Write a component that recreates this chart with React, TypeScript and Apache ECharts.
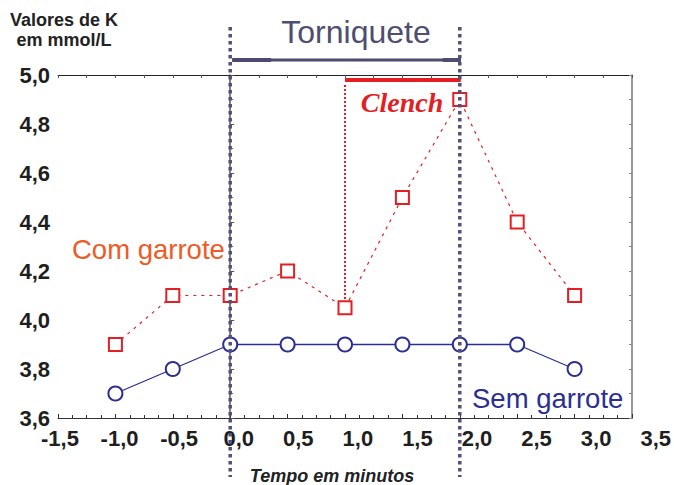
import React, { useEffect, useRef } from "react";
import * as echarts from "echarts";

const timeMin = [-1.0, -0.5, 0.0, 0.5, 1.0, 1.5, 2.0, 2.5, 3.0];
const comGarrote = [3.9, 4.1, 4.1, 4.2, 4.05, 4.5, 4.9, 4.4, 4.1];
const semGarrote = [3.7, 3.8, 3.9, 3.9, 3.9, 3.9, 3.9, 3.9, 3.8];
const xTickLabels = ["-1,5", "-1,0", "-0,5", "0,0", "0,5", "1,0", "1,5", "2,0", "2,5", "3,0", "3,5"];
const yTickLabels = ["3,6", "3,8", "4,0", "4,2", "4,4", "4,6", "4,8", "5,0"];
const torniqueteSpan = [0, 2];
const clenchSpan = [1, 2];
const clenchLevel = 4.98;
const clenchStartValue = 4.05;

const RED = "#e31e24";
const NAVY = "#2b2f92";
const DOT = "#505078";
const SANS = "'Liberation Sans', Arial, sans-serif";
const SERIF = "'Liberation Serif', 'Times New Roman', serif";

export default function App() {
  const ref = useRef<HTMLDivElement>(null);
  useEffect(() => {
    if (!ref.current) return;
    const chart = echarts.init(ref.current, null, { renderer: "svg" });
    const xFmt = (v: number) => {
      const i = Math.round((v + 1.5) / 0.5);
      return xTickLabels[i] ?? "";
    };
    const yFmt = (v: number) => {
      const i = Math.round((v - 3.6) / 0.2);
      return yTickLabels[i] ?? "";
    };
    const option: any = {
      animation: false,
      backgroundColor: "#ffffff",
      grid: [
        { left: 58, right: 42, top: 75, bottom: 67 },
        { left: 60, right: 17, top: 75, bottom: 67 },
      ],
      xAxis: [
        {
          gridIndex: 0,
          type: "value",
          min: -1.5,
          max: 3.5,
          interval: 0.5,
          position: "bottom",
          axisLine: { show: true, lineStyle: { color: "#333", width: 1 } },
          axisTick: { show: true, inside: true, length: 4, lineStyle: { color: "#333" } },
          minorTick: { show: true, splitNumber: 4, length: 3, lineStyle: { color: "#333" } },
          axisLabel: { show: false },
          splitLine: { show: false },
        },
        {
          gridIndex: 0,
          type: "value",
          min: -1.5,
          max: 3.5,
          interval: 0.5,
          position: "top",
          axisLine: { show: true, onZero: false, lineStyle: { color: "#222", width: 1 } },
          axisTick: { show: true, inside: true, length: 3, lineStyle: { color: "#555" } },
          minorTick: { show: true, splitNumber: 2, length: 3, lineStyle: { color: "#555" } },
          axisLabel: { show: false },
          splitLine: { show: false },
        },
        {
          gridIndex: 1,
          type: "value",
          min: -1.5,
          max: 3.5,
          interval: 0.5,
          position: "bottom",
          axisLine: { show: false },
          axisTick: { show: false },
          splitLine: { show: false },
          axisLabel: {
            show: true,
            margin: 9,
            formatter: xFmt,
            fontFamily: SANS,
            fontWeight: "bold",
            fontSize: 22,
            color: "#1e1e1e",
          },
        },
      ],
      yAxis: [
        {
          gridIndex: 0,
          type: "value",
          min: 3.6,
          max: 5.0,
          interval: 0.2,
          position: "left",
          axisLine: { show: true, lineStyle: { color: "#555", width: 1.5 } },
          axisTick: { show: true, inside: true, length: 4, lineStyle: { color: "#555" } },
          minorTick: { show: true, splitNumber: 2, length: 3, lineStyle: { color: "#777" } },
          splitLine: { show: false },
          axisLabel: {
            show: true,
            margin: 8,
            formatter: yFmt,
            fontFamily: SANS,
            fontWeight: "bold",
            fontSize: 22,
            color: "#1e1e1e",
          },
        },
        {
          gridIndex: 0,
          type: "value",
          min: 3.6,
          max: 5.0,
          interval: 0.2,
          position: "right",
          axisLine: { show: true, onZero: false, lineStyle: { color: "#777", width: 1.5 } },
          axisTick: { show: true, inside: true, length: 3, lineStyle: { color: "#888" } },
          minorTick: { show: true, splitNumber: 2, length: 3, lineStyle: { color: "#888" } },
          splitLine: { show: false },
          axisLabel: { show: false },
        },
        { gridIndex: 1, type: "value", min: 0, max: 1, show: false },
      ],
      series: [
        {
          name: "Com garrote",
          type: "line",
          xAxisIndex: 0,
          yAxisIndex: 0,
          data: timeMin.map((t, i) => [t, comGarrote[i]]),
          symbol: "rect",
          symbolSize: 13,
          itemStyle: { color: "#ffffff", borderColor: RED, borderWidth: 2 },
          lineStyle: { color: RED, width: 1.2, type: [3, 5] },
          z: 3,
        },
        {
          name: "Sem garrote",
          type: "line",
          xAxisIndex: 0,
          yAxisIndex: 0,
          data: timeMin.map((t, i) => [t, semGarrote[i]]),
          symbol: "circle",
          symbolSize: 14,
          itemStyle: { color: "#ffffff", borderColor: NAVY, borderWidth: 2 },
          lineStyle: { color: NAVY, width: 1.3 },
          z: 3,
        },
        {
          name: "clench-vertical",
          type: "custom",
          xAxisIndex: 0,
          yAxisIndex: 0,
          clip: false,
          z: 4,
          data: [[clenchSpan[0], clenchLevel, clenchStartValue]],
          renderItem: (params: any, api: any) => {
            const a = api.coord([api.value(0), api.value(1)]);
            const b = api.coord([api.value(0), api.value(2)]);
            return {
              type: "line",
              shape: { x1: a[0], y1: a[1] + 5, x2: b[0], y2: b[1] - 6 },
              style: { stroke: RED, lineWidth: 2, lineDash: [2, 2] },
            };
          },
        },
        {
          name: "clench-bar",
          type: "custom",
          xAxisIndex: 0,
          yAxisIndex: 0,
          clip: false,
          z: 4,
          data: [[clenchSpan[0], clenchSpan[1], clenchLevel]],
          renderItem: (params: any, api: any) => {
            const a = api.coord([api.value(0), api.value(2)]);
            const b = api.coord([api.value(1), api.value(2)]);
            return {
              type: "line",
              shape: { x1: a[0], y1: a[1], x2: b[0] + 1, y2: b[1] },
              style: { stroke: RED, lineWidth: 4 },
            };
          },
        },
        {
          name: "torniquete-bar",
          type: "custom",
          xAxisIndex: 0,
          yAxisIndex: 0,
          clip: false,
          z: 4,
          data: [[torniqueteSpan[0], torniqueteSpan[1]]],
          renderItem: (params: any, api: any) => {
            const cs = params.coordSys;
            const a = api.coord([api.value(0), 5]);
            const b = api.coord([api.value(1), 5]);
            const y = cs.y - 15;
            return {
              type: "group",
              children: [
                {
                  type: "line",
                  shape: { x1: a[0] + 2, y1: y, x2: b[0] + 1, y2: y },
                  style: { stroke: "#4d4b6f", lineWidth: 3 },
                },
                {
                  type: "line",
                  shape: { x1: a[0] + 2, y1: y, x2: a[0] + 41, y2: y },
                  style: { stroke: "#4d4b6f", lineWidth: 4 },
                },
                {
                  type: "line",
                  shape: { x1: b[0] - 17, y1: y, x2: b[0] + 1, y2: y },
                  style: { stroke: "#4d4b6f", lineWidth: 4 },
                },
              ],
            };
          },
        },
        {
          name: "torniquete-limits",
          type: "custom",
          xAxisIndex: 0,
          yAxisIndex: 0,
          clip: false,
          z: 5,
          data: torniqueteSpan.map((t) => [t]),
          renderItem: (params: any, api: any) => {
            const cs = params.coordSys;
            const p = api.coord([api.value(0), 5]);
            return {
              type: "line",
              shape: { x1: p[0], y1: cs.y - 48, x2: p[0], y2: cs.y + cs.height + 59 },
              style: { stroke: DOT, lineWidth: 3.5, lineDash: [3.5, 3.5] },
            };
          },
        },
      ],
      graphic: [
        {
          type: "text",
          x: 64,
          y: 29,
          style: {
            text: "Valores de K",
            font: `bold 18px ${SANS}`,
            fill: "#222",
            align: "center",
            verticalAlign: "bottom",
          },
        },
        {
          type: "text",
          x: 64,
          y: 49,
          style: {
            text: "em mmol/L",
            font: `bold 18px ${SANS}`,
            fill: "#222",
            align: "center",
            verticalAlign: "bottom",
          },
        },
        {
          type: "text",
          x: 356,
          y: 48,
          style: {
            text: "Torniquete",
            font: `32px ${SANS}`,
            fill: "#4f4d70",
            align: "center",
            verticalAlign: "bottom",
          },
        },
        {
          type: "text",
          x: 402,
          y: 116,
          z: 6,
          style: {
            text: "Clench",
            font: `italic bold 28px ${SERIF}`,
            fill: RED,
            align: "center",
            verticalAlign: "bottom",
          },
        },
        {
          type: "text",
          x: 72,
          y: 263,
          style: {
            text: "Com garrote",
            font: `27.5px ${SANS}`,
            fill: "#f05a24",
            align: "left",
            verticalAlign: "bottom",
          },
        },
        {
          type: "text",
          x: 472,
          y: 412,
          style: {
            text: "Sem garrote",
            font: `27.5px ${SANS}`,
            fill: NAVY,
            align: "left",
            verticalAlign: "bottom",
          },
        },
        {
          type: "text",
          x: 332,
          y: 485,
          style: {
            text: "Tempo em minutos",
            font: `italic bold 18px ${SANS}`,
            fill: "#222",
            align: "center",
            verticalAlign: "bottom",
          },
        },
      ],
    };
    chart.setOption(option);
    return () => chart.dispose();
  }, []);
  return (
    <div
      ref={ref}
      style={{ position: "fixed", left: 0, top: 0, width: 674, height: 485 }}
    />
  );
}
